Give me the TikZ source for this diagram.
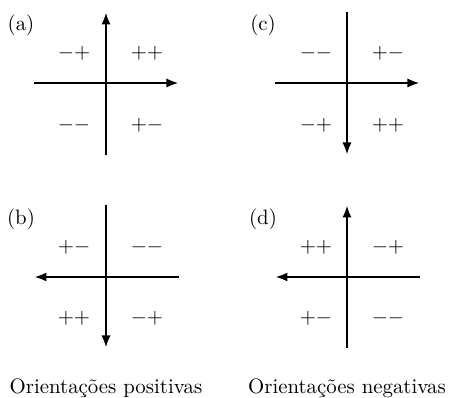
\documentclass[tikz,border=0pt]{standalone}
\usepackage{amsmath}
\usepackage{tikz}
\usetikzlibrary{
    arrows.meta
}
\tikzset{
  axis/.style    = {line width=1.4pt, line cap=butt},
  arr/.style     = {axis, -{Latex[length=6pt,width=4.4pt]}},
  sign/.style    = {inner sep=0pt, font=\normalsize},
  tag/.style     = {inner sep=0pt, font=\normalsize},
  caption/.style = {inner sep=0pt, font=\normalsize}
}

\begin{document}
\begin{tikzpicture}[x=0.48pt, y=-0.48pt]
\useasboundingbox (0,0) rectangle (453,398);
% (a)
\coordinate (aN) at (106,12);  \coordinate (aS) at (106,155);
\coordinate (aW) at (34,83);   \coordinate (aE) at (179,83);
\draw[arr] (aS) -- (aN);
\draw[arr] (aW) -- (aE);
\node[tag] (ta) at (21,25) {(a)};
\node[sign] (a1) at (74,53)   {$-+$};
\node[sign] (a2) at (147,53)  {$++$};
\node[sign] (a3) at (74,125)  {$--$};
\node[sign] (a4) at (147,125) {$+-$};
% (c)
\coordinate (cN) at (347,12);  \coordinate (cS) at (347,155);
\coordinate (cW) at (275,83);  \coordinate (cE) at (420,83);
\draw[arr] (cN) -- (cS);
\draw[arr] (cW) -- (cE);
\node[tag] (tc) at (263,25) {(c)};
\node[sign] (c1) at (316,53)  {$--$};
\node[sign] (c2) at (388,53)  {$+-$};
\node[sign] (c3) at (316,125) {$-+$};
\node[sign] (c4) at (388,125) {$++$};
% (b)
\coordinate (bN) at (106,205); \coordinate (bS) at (106,348);
\coordinate (bW) at (34,277);  \coordinate (bE) at (179,277);
\draw[arr] (bN) -- (bS);
\draw[arr] (bE) -- (bW);
\node[tag] (tb) at (21,219) {(b)};
\node[sign] (b1) at (74,247)  {$+-$};
\node[sign] (b2) at (147,247) {$--$};
\node[sign] (b3) at (74,318)  {$++$};
\node[sign] (b4) at (147,318) {$-+$};
% (d)
\coordinate (dN) at (347,205); \coordinate (dS) at (347,348);
\coordinate (dW) at (275,277); \coordinate (dE) at (420,277);
\draw[arr] (dS) -- (dN);
\draw[arr] (dE) -- (dW);
\node[tag] (td) at (263,219) {(d)};
\node[sign] (d1) at (316,247) {$++$};
\node[sign] (d2) at (388,247) {$-+$};
\node[sign] (d3) at (316,318) {$+-$};
\node[sign] (d4) at (388,318) {$--$};
% legendas
\node[caption] (pos) at (106,388) {Orientações positivas};
\node[caption] (neg) at (347,388) {Orientações negativas};
\end{tikzpicture}
\end{document}
